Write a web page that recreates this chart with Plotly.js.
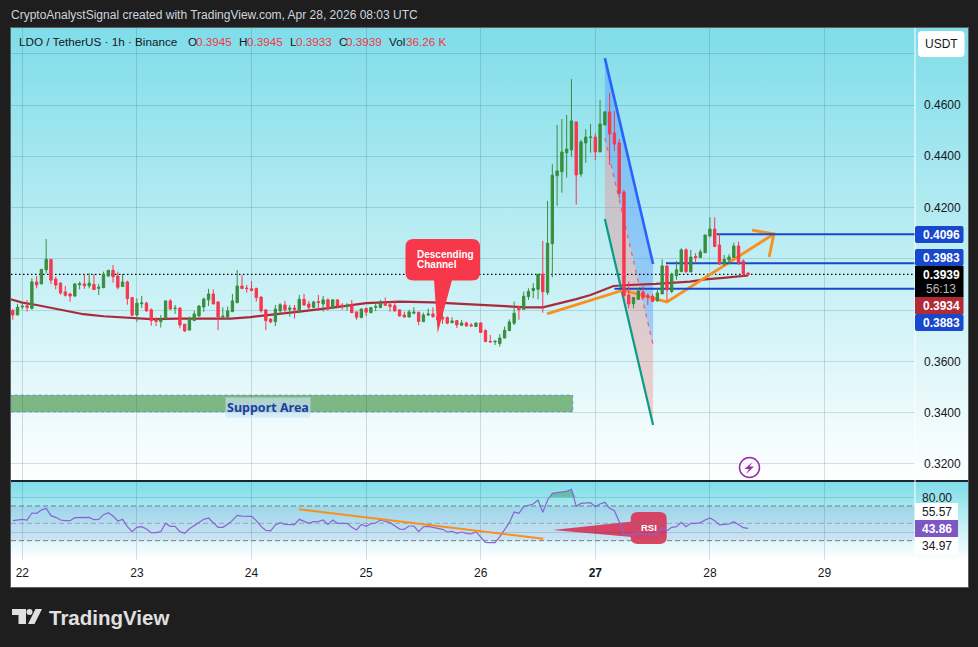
<!DOCTYPE html>
<html>
<head>
<meta charset="utf-8">
<script src="https://cdn.plot.ly/plotly-3.0.1.min.js"></script>
<style>
  html, body { margin: 0; padding: 0; background: #1e1e1e; overflow: hidden; }
  .box { position: absolute; }
  #frame { left: 10px; top: 27px; width: 957px; height: 559px; border: 1px solid #5d5f63; background: #fff; }
  #pane1 { left: 11px; top: 28px; width: 957px; height: 452px; background: linear-gradient(#7fdde9, #ffffff); }
  #pane2 { left: 11px; top: 482px; width: 957px; height: 78px; background: linear-gradient(#7fdde9, #ffffff); }
  #sep { left: 11px; top: 480px; width: 957px; height: 2px; background: #1e222d; }
  #chart { left: 0; top: 0; width: 978px; height: 647px; }
</style>
</head>
<body>
<div class="box" id="frame"></div>
<div class="box" id="pane1"></div>
<div class="box" id="sep"></div>
<div class="box" id="pane2"></div>
<div class="box" id="chart"></div>
<script>
// hourly candles. first candle is 2h before the "22" tick
var open = [.3798,.3781,.3812,.3817,.3806,.3910,.3902,.3957,.3998,.3921,.3905,.3871,.3863,.3855,.3899,.3902,.3895,.3900,.3885,.3888,.3933,.3955,.3933,.3892,.3910,.3849,.3781,.3825,.3827,.3801,.3762,.3755,.3767,.3836,.3806,.3808,.3745,.3722,.3759,.3777,.3812,.3840,.3863,.3832,.3773,.3773,.3794,.3829,.3894,.3886,.3883,.3884,.3851,.3801,.3765,.3755,.3797,.3820,.3803,.3808,.3794,.3842,.3824,.3811,.3833,.3824,.3840,.3807,.3840,.3819,.3814,.3821,.3793,.3771,.3806,.3790,.3811,.3810,.3827,.3821,.3817,.3801,.3781,.3773,.3788,.3792,.3755,.3781,.3785,.3775,.3772,.3771,.3751,.3759,.3741,.3750,.3742,.3736,.3750,.3720,.3678,.3676,.3670,.3691,.3720,.3749,.3811,.3803,.3853,.3876,.3881,.3940,.3869,.4059,.4324,.4340,.4414,.4425,.4534,.4331,.4452,.4473,.4475,.4417,.4522,.4573,.4491,.4452,.4261,.3859,.3825,.3842,.3871,.3857,.3854,.3836,.3863,.3972,.3873,.3934,.3950,.4035,.3949,.4009,.4005,.4024,.4089,.4116,.4054,.3980,.3996,.4005,.4050,.3992,.3945];
var high = [.3804,.3824,.3833,.3840,.3924,.3933,.3959,.4077,.3998,.3930,.3910,.3894,.3868,.3905,.3911,.3941,.3944,.3940,.3902,.3950,.3957,.3976,.3950,.3941,.3915,.3851,.3846,.3855,.3833,.3807,.3771,.3781,.3836,.3843,.3820,.3811,.3746,.3775,.3797,.3819,.3849,.3883,.3881,.3834,.3811,.3814,.3863,.3957,.3937,.3898,.3913,.3888,.3853,.3801,.3768,.3820,.3827,.3836,.3820,.3820,.3859,.3863,.3836,.3836,.3859,.3855,.3846,.3842,.3840,.3827,.3827,.3840,.3794,.3807,.3811,.3811,.3824,.3840,.3849,.3836,.3836,.3801,.3794,.3801,.3811,.3792,.3790,.3806,.3811,.3785,.3784,.3775,.3772,.3762,.3762,.3755,.3749,.3750,.3750,.3725,.3703,.3683,.3706,.3736,.3764,.3833,.3816,.3872,.3885,.3905,.3940,.4070,.4226,.4369,.4522,.4545,.4561,.4701,.4534,.4464,.4506,.4526,.4489,.4620,.4577,.4648,.4577,.4467,.4269,.3911,.3852,.3885,.3894,.3866,.3863,.3885,.3998,.3976,.3946,.3992,.4041,.4041,.4035,.4022,.4037,.4093,.4162,.4162,.4100,.4015,.4018,.4063,.4067,.3998,.3945];
var low = [.3762,.3781,.3803,.3794,.3803,.3885,.3902,.3944,.3902,.3881,.3860,.3853,.3833,.3851,.3881,.3883,.3885,.3879,.3859,.3885,.3930,.3907,.3881,.3892,.3821,.3777,.3755,.3808,.3794,.3739,.3738,.3732,.3764,.3801,.3785,.3729,.3715,.3722,.3759,.3775,.3793,.3816,.3823,.3722,.3772,.3765,.3793,.3827,.3883,.3868,.3873,.3833,.3790,.3722,.3749,.3738,.3788,.3784,.3775,.3767,.3788,.3816,.3803,.3807,.3798,.3794,.3798,.3807,.3807,.3801,.3798,.3788,.3762,.3768,.3777,.3788,.3796,.3807,.3816,.3794,.3794,.3776,.3771,.3771,.3784,.3741,.3754,.3777,.3769,.3750,.3746,.3745,.3749,.3730,.3738,.3736,.3738,.3734,.3712,.3676,.3674,.3664,.3658,.3690,.3719,.3742,.3762,.3801,.3840,.3846,.3842,.3790,.3859,.3928,.4207,.4258,.4317,.4399,.4211,.4320,.4375,.4414,.4385,.4417,.4522,.4366,.4421,.4237,.3852,.3807,.3807,.3840,.3840,.3820,.3832,.3833,.3863,.3836,.3866,.3918,.3950,.3944,.3949,.3983,.4005,.4024,.4084,.4048,.3976,.3972,.3979,.4002,.3976,.3933,.3933];
var close = [.3781,.3811,.3815,.3810,.3910,.3898,.3959,.3998,.3917,.3898,.3867,.3858,.3855,.3902,.3903,.3895,.3905,.3880,.3889,.3940,.3955,.3930,.3889,.3910,.3845,.3780,.3827,.3828,.3797,.3759,.3756,.3765,.3836,.3804,.3808,.3742,.3719,.3767,.3785,.3816,.3843,.3863,.3824,.3773,.3776,.3797,.3836,.3894,.3884,.3884,.3877,.3849,.3797,.3759,.3754,.3804,.3821,.3801,.3808,.3802,.3842,.3820,.3811,.3832,.3830,.3840,.3807,.3840,.3816,.3816,.3819,.3790,.3772,.3804,.3792,.3810,.3814,.3827,.3819,.3814,.3797,.3777,.3773,.3793,.3792,.3756,.3781,.3785,.3775,.3762,.3765,.3749,.3758,.3742,.3750,.3738,.3738,.3750,.3713,.3677,.3676,.3678,.3691,.3721,.3754,.3788,.3801,.3854,.3873,.3885,.3940,.3872,.4061,.4326,.4343,.4417,.4428,.4538,.4327,.4456,.4475,.4475,.4417,.4526,.4573,.4487,.4448,.4256,.3856,.3824,.3849,.3875,.3850,.3850,.3834,.3867,.3972,.3879,.3941,.3957,.4035,.3950,.4007,.4005,.4027,.4093,.4116,.4048,.3980,.3998,.4007,.4050,.3983,.3941,.3939];
var rsi = [53.1,54.2,54.6,53.8,61.9,61.5,65.3,67.3,58.8,56.9,53.8,53.1,53.1,56.5,56.5,56.1,56.9,54.2,54.6,60,62.3,58.4,52.7,54.6,46.1,40.4,45.4,46.1,43.4,39.2,39.2,40.4,50,46.5,46.5,40.4,38.5,43.8,47.7,51.5,54.6,56.1,50.8,45.4,45.4,48.8,53.4,59.2,58.4,58.4,58.1,53.1,46.5,41.9,41.2,48.1,50.8,48.8,48.4,48.4,54.6,52.3,50,51.9,51.9,53.8,48.8,53.8,50,50,50,45.4,42.3,48.8,46.5,49.6,50.4,53.8,52.3,50.8,47.3,43.4,43.1,46.9,46.9,40.4,46.1,46.5,45.4,44.2,43.1,40,40.8,38.5,40,38.5,37.7,40.4,34.6,28.1,27.7,27.7,34.6,43.4,50.8,63,61.5,69.2,70.7,72.3,76.9,62.7,76.9,84.6,85.3,86.5,86.9,89.2,69.6,73,73.8,73.8,69.2,72.3,74.2,67.3,64.6,51.9,36.5,37.3,37.3,39.2,37.7,37.7,37.3,39.2,45.4,41.5,45.4,46.1,51.1,46.1,50,50,50.8,53.8,56.1,53.1,48.1,48.8,49.2,51.9,48.1,45,44.2];

// moving average, read at a few spots along the curve
var maHours = [-3,0,3,8,12.8,17,22,27,32.5,39.4,43.6,47.8,53.4,58,65,72,79,86,93,100,105.6,109,112.6,116,119,121.7,123.8,127,132.7,139.8,143,146.8,152];
var maValues = [.3845,.3829,.3820,.3803,.3784,.3776,.3771,.3765,.3767,.3767,.3767,.3773,.3784,.3794,.3810,.3827,.3833,.3830,.3823,.3816,.3811,.3811,.3827,.3843,.3859,.3878,.3894,.3898,.3902,.3911,.3920,.3926,.3935];

// drawings on the price pane (hours from Apr 22 00:00, price)
var wedgeBlueX = [122,132.1,132.1,122], wedgeBlueY = [.4783,.3980,.3664,.4471];
var wedgePinkX = [122,132.1,132.1,122], wedgePinkY = [.4471,.3664,.3352,.4155];
var blueEdgeX = [122,132.1], blueEdgeY = [.4783,.3980];
var tealEdgeX = [122,132.1], tealEdgeY = [.4155,.3352];
var dashEdgeX = [122,132.1], dashEdgeY = [.4471,.3664];
var orangeX = [109.9,125.8,135,157.4,null,152.8,157.4,156.4];
var orangeY = [.3785,.3878,.3832,.4097,null,.4112,.4097,.4007];
var levels = [.4096,.3983,.3883], levelStart = [145.4,134.8,124];
var lastPrice = .3939;
var supportTop = .3469, supportBottom = .3403, supportEnd = 115.3;

// drawings on the rsi pane
var rsiTrendX = [57.9,109.1], rsiTrendY = [66.1,32.3];
var overX = [110.5,111,112,113,114,115,115.9], overY = [80,84.6,85.3,86.5,86.9,89.2,80];
var rsiLevels = [70,50,30];

var dayTicks = [0,24,48,72,96,120,144,168];
var dayLabels = ['22','23','24','25','26','<b>27</b>','28','29'];
var priceTicks = [.32,.34,.36,.38,.40,.42,.44,.46,.48];
var priceLabels = ['0.3200','0.3400','0.3600','','','0.4200','0.4400','0.4600',''];

var hours = [];
for (var i = 0; i < open.length; i++) hours.push(i - 2);

var FONT = 'Liberation Sans, sans-serif';
var xMin = -2.37, xMax = 186.95;

// pixel position on the page -> paper coords
function px(x) { return (x - 11) / 904; }
function py(y) { return (560 - y) / 532; }
function pt(x, y) { return px(x) + ',' + py(y); }

function roundRect(x0, y0, x1, y1, r) {
  return 'M' + pt(x0 + r, y0) + ' L' + pt(x1 - r, y0) + ' Q' + pt(x1, y0) + ' ' + pt(x1, y0 + r) +
    ' L' + pt(x1, y1 - r) + ' Q' + pt(x1, y1) + ' ' + pt(x1 - r, y1) +
    ' L' + pt(x0 + r, y1) + ' Q' + pt(x0, y1) + ' ' + pt(x0, y1 - r) +
    ' L' + pt(x0, y0 + r) + ' Q' + pt(x0, y0) + ' ' + pt(x0 + r, y0) + ' Z';
}
function pathShape(d, fill, layer) {
  return {type: 'path', xref: 'paper', yref: 'paper', path: d, fillcolor: fill, line: {width: 0}, layer: layer || 'above'};
}
function label(x, y, text, color, size, anchor, bold) {
  return {xref: 'paper', yref: 'paper', x: px(x), y: py(y), text: bold ? '<b>' + text + '</b>' : text, showarrow: false,
    xanchor: anchor || 'left', yanchor: 'middle', align: 'left', borderpad: 0,
    font: {family: FONT, size: size || 12, color: color}};
}

var traces = [
  {type: 'scatter', mode: 'lines', x: wedgeBlueX, y: wedgeBlueY, fill: 'toself', fillcolor: 'rgba(70,140,250,0.38)', line: {width: 0}},
  {type: 'scatter', mode: 'lines', x: wedgePinkX, y: wedgePinkY, fill: 'toself', fillcolor: 'rgba(242,120,120,0.33)', line: {width: 0}},
  {type: 'scatter', mode: 'lines', x: maHours, y: maValues, line: {color: '#a82a3c', width: 2.2}},
  {type: 'scatter', mode: 'lines', x: [xMin, xMax], y: [lastPrice, lastPrice], line: {color: '#000', width: 1.3, dash: '1.5px,2.5px'}},
  {type: 'scatter', mode: 'lines', x: blueEdgeX, y: blueEdgeY, line: {color: '#2962ff', width: 2.6}},
  {type: 'scatter', mode: 'lines', x: tealEdgeX, y: tealEdgeY, line: {color: '#0b9a86', width: 2.2}},
  {type: 'scatter', mode: 'lines', x: dashEdgeX, y: dashEdgeY, line: {color: '#ef6079', width: 1.3, dash: '4px,5px'}},
  {type: 'scatter', mode: 'lines', x: orangeX, y: orangeY, line: {color: '#f7901e', width: 2.8}},
  {type: 'candlestick', x: hours, open: open, high: high, low: low, close: close, yaxis: 'y3', whiskerwidth: 0, width: 0.45,
    increasing: {line: {color: '#388e3c', width: 1}, fillcolor: '#388e3c'},
    decreasing: {line: {color: '#f7374f', width: 1}, fillcolor: '#f7374f'}},
  {type: 'scatter', mode: 'lines', x: overX, y: overY, yaxis: 'y2', fill: 'toself', fillcolor: 'rgba(60,165,110,0.55)', line: {width: 0}},
  {type: 'scatter', mode: 'lines', x: hours, y: rsi, yaxis: 'y2', line: {color: '#8a63d2', width: 1.2}},
  {type: 'scatter', mode: 'lines', x: rsiTrendX, y: rsiTrendY, yaxis: 'y2', line: {color: '#f7901e', width: 2}}
];
levels.forEach(function (v, i) {
  traces.push({type: 'scatter', mode: 'lines', x: [levelStart[i], xMax], y: [v, v], line: {color: '#1848cc', width: 2}});
});

var shapes = [
  {type: 'rect', xref: 'x', yref: 'y', x0: xMin, x1: supportEnd, y0: supportBottom, y1: supportTop, layer: 'below',
    fillcolor: '#7db884', line: {color: 'rgba(41,98,255,0.45)', width: 1, dash: 'dot'}},
  {type: 'rect', xref: 'x', yref: 'y2', x0: xMin, x1: xMax, y0: rsiLevels[2], y1: rsiLevels[0], layer: 'below',
    fillcolor: 'rgba(80,90,200,0.12)', line: {width: 0}},
  {type: 'line', xref: 'paper', yref: 'paper', x0: 1, x1: 1, y0: 0, y1: py(28), line: {color: '#fff', width: 1}},
  // "Descending Channel" callout
  pathShape(roundRect(405.5, 239, 480, 280.5, 8), '#f7374a'),
  pathShape('M' + pt(434, 280) + ' L' + pt(452, 280) + ' L' + pt(437.7, 333) + ' Z', '#f7374a'),
  // RSI callout, sits under the rsi line
  pathShape(roundRect(630.7, 512, 666.7, 544, 7), '#e8405a', 'below'),
  pathShape('M' + pt(552.5, 530) + ' L' + pt(632, 521.5) + ' L' + pt(632, 537) + ' Z', '#e8405a', 'below'),
  // USDT button
  pathShape(roundRect(918, 31, 964.5, 57, 4), '#fff'),
  // right side price boxes
  pathShape(roundRect(915, 226, 963.5, 243, 2), '#1848cc'),
  pathShape(roundRect(915, 249, 963.5, 266, 2), '#1848cc'),
  pathShape(roundRect(915, 266, 963.5, 297, 0), '#000'),
  pathShape(roundRect(915, 297, 963.5, 314, 0), '#b02a37'),
  pathShape(roundRect(915, 314, 963.5, 331, 2), '#1848cc'),
  // rsi boxes
  pathShape(roundRect(915, 503, 958, 520, 0), '#fff'),
  pathShape(roundRect(915, 520, 958, 537, 0), '#7e57c2'),
  pathShape(roundRect(915, 537, 958, 554, 0), '#fff'),
  // lightning icon
  {type: 'circle', xref: 'paper', yref: 'paper', x0: px(739.5), x1: px(759.5), y0: py(477.5), y1: py(457.5),
    fillcolor: 'rgba(255,255,255,0.5)', line: {color: '#9c27b0', width: 1.5}},
  pathShape('M' + pt(752.5, 462) + ' L' + pt(744.5, 469) + ' L' + pt(749, 469) + ' L' + pt(746, 474) + ' L' + pt(754, 466.5) + ' L' + pt(749.5, 466.5) + ' Z', '#9c27b0'),
  // logo
  pathShape('M' + pt(12, 609) + ' L' + pt(26, 609) + ' L' + pt(26, 624) + ' L' + pt(18.5, 624) + ' L' + pt(18.5, 615) + ' L' + pt(12, 615) + ' Z', '#e0e0e0'),
  {type: 'circle', xref: 'paper', yref: 'paper', x0: px(26.5), x1: px(32.5), y0: py(615), y1: py(609), fillcolor: '#e0e0e0', line: {width: 0}},
  pathShape('M' + pt(35.5, 609) + ' L' + pt(42, 609) + ' L' + pt(34.5, 624) + ' L' + pt(28, 624) + ' Z', '#e0e0e0')
];
rsiLevels.forEach(function (v) {
  shapes.push({type: 'line', xref: 'x', yref: 'y2', x0: xMin, x1: xMax, y0: v, y1: v, layer: 'below',
    line: {color: v === 50 ? 'rgba(120,123,134,0.55)' : '#787b86', width: 1, dash: '5px,3px'}});
});

var R = '#f23645';
var annotations = [
  label(10, 15, 'CryptoAnalystSignal created with TradingView.com, Apr 28, 2026 08:03 UTC', '#d1d4dc', 12),
  label(18, 41.5, 'LDO / TetherUS · 1h · Binance', '#131722', 11.7),
  label(186.5, 41.5, 'O', '#131722', 11.7), label(195, 41.5, '0.3945', R, 11.7),
  label(238, 41.5, 'H', '#131722', 11.7), label(246, 41.5, '0.3945', R, 11.7),
  label(289, 41.5, 'L', '#131722', 11.7), label(295, 41.5, '0.3933', R, 11.7),
  label(338, 41.5, 'C', '#131722', 11.7), label(345, 41.5, '0.3939', R, 11.7),
  label(388, 41.5, 'Vol', '#131722', 11.7), label(405, 41.5, '36.26 K', R, 11.7),
  label(416, 254.5, 'Descending', '#fff', 10, 'left', true),
  label(416, 264.5, 'Channel', '#fff', 10, 'left', true),
  label(648.5, 527.5, 'RSI', '#fff', 9.5, 'center', true),
  label(941, 44.5, 'USDT', '#131722', 12, 'center'),
  label(941, 234.5, '0.4096', '#fff', 12, 'center', true),
  label(941, 257.5, '0.3983', '#fff', 12, 'center', true),
  label(941, 274.5, '0.3939', '#fff', 12, 'center', true),
  label(941, 288.5, '56:13', '#b8b8b8', 12, 'center'),
  label(941, 305.5, '0.3934', '#fff', 12, 'center', true),
  label(941, 322.5, '0.3883', '#fff', 12, 'center', true),
  label(937, 497.5, '80.00', '#131722', 12, 'center'),
  label(937, 511.5, '55.57', '#131722', 12, 'center'),
  label(937, 528.5, '43.86', '#fff', 12, 'center', true),
  label(937, 545.5, '34.97', '#131722', 12, 'center'),
  label(48, 617, 'TradingView', '#e0e0e0', 20.5, 'left', true)
];
annotations.push({xref: 'paper', yref: 'paper', x: px(268), y: py(407.5), xanchor: 'center', yanchor: 'middle', text: '<b>Support Area</b>', showarrow: false,
  bgcolor: 'rgba(205,228,245,0.65)', borderpad: 1, font: {family: 'Noto Sans, sans-serif', size: 12.5, color: '#1a3fa5'}});

var gridColor = 'rgba(20,70,90,0.17)';
var priceRange = [.31374, .49003];
var layout = {
  width: 978, height: 647,
  margin: {l: 11, r: 63, t: 28, b: 87, pad: 0},
  paper_bgcolor: 'rgba(0,0,0,0)', plot_bgcolor: 'rgba(0,0,0,0)',
  showlegend: false, dragmode: false,
  font: {family: FONT, size: 12, color: '#131722'},
  xaxis: {type: 'linear', range: [xMin, xMax], anchor: 'y2', tickmode: 'array', tickvals: dayTicks, ticktext: dayLabels,
    showgrid: true, gridcolor: gridColor, gridwidth: 1, zeroline: false, showline: false, ticks: '', ticklabelstandoff: 4, rangeslider: {visible: false},
    tickfont: {family: FONT, size: 12, color: '#131722'}},
  yaxis: {domain: [py(480), 1], range: priceRange, side: 'right', tickmode: 'array', tickvals: priceTicks, ticktext: priceLabels,
    showgrid: true, gridcolor: gridColor, zeroline: false, showline: false, ticks: '', ticklabelstandoff: 8,
    tickfont: {family: FONT, size: 12, color: '#131722'}},
  yaxis2: {domain: [0, py(482)], range: [7.72, 97.64], side: 'right', tickmode: 'array', tickvals: [40, 80], ticktext: ['', ''],
    showgrid: true, gridcolor: gridColor, zeroline: false, showline: false, ticks: ''},
  yaxis3: {overlaying: 'y', range: priceRange, side: 'right', visible: false, showgrid: false, zeroline: false},
  shapes: shapes,
  annotations: annotations
};

Plotly.newPlot('chart', traces, layout, {displayModeBar: false, staticPlot: true});
</script>
</body>
</html>
